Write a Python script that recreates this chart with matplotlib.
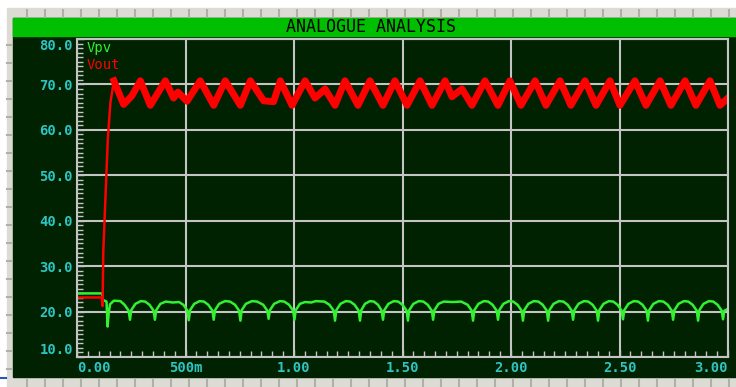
import numpy as np
import matplotlib.pyplot as plt
from matplotlib.patches import Rectangle
from matplotlib.ticker import MultipleLocator

# axis ticks, as printed by the simulator
x_ticks = [0.0, 0.5, 1.0, 1.5, 2.0, 2.5, 3.0]
x_labels = ['0.00', '500m', '1.00', '1.50', '2.00', '2.50', '3.00']
y_ticks = [10, 20, 30, 40, 50, 60, 70, 80]
y_labels = ['10.0', '20.0', '30.0', '40.0', '50.0', '60.0', '70.0', '80.0']

# Vpv trace (time s, volts)
vpv = [
    (0.000, 24.0), (0.116, 24.0), (0.118, 22.6), (0.136, 22.2), (0.141, 16.7),
    (0.146, 19.6), (0.152, 21.6), (0.170, 22.4), (0.200, 22.3), (0.219, 21.5),
    (0.238, 20.2), (0.244, 18.2),
    (0.250, 20.3), (0.269, 21.7), (0.294, 22.3), (0.314, 22.2), (0.334, 21.5), (0.353, 20.2), (0.359, 18.2),
    (0.365, 20.3), (0.384, 21.7), (0.409, 22.2), (0.440, 22.0), (0.470, 22.1), (0.490, 21.5), (0.509, 20.2), (0.515, 18.1),
    (0.521, 20.3), (0.540, 21.7), (0.565, 22.3), (0.585, 22.2), (0.605, 21.5), (0.624, 20.2), (0.630, 18.2),
    (0.636, 20.3), (0.655, 21.7), (0.682, 22.3), (0.705, 22.2), (0.728, 21.5), (0.747, 20.2), (0.753, 18.0),
    (0.759, 20.3), (0.778, 21.7), (0.806, 22.3), (0.830, 22.2), (0.858, 21.5), (0.877, 20.2), (0.883, 18.4),
    (0.889, 20.3), (0.908, 21.7), (0.935, 22.3), (0.955, 22.2), (0.977, 21.5), (0.996, 20.2), (1.002, 18.2),
    (1.008, 20.3), (1.027, 21.7), (1.051, 22.1), (1.080, 22.0), (1.100, 22.3), (1.140, 22.2), (1.163, 21.5),
    (1.183, 20.2), (1.189, 18.0),
    (1.195, 20.3), (1.214, 21.7), (1.239, 22.3), (1.259, 22.2), (1.279, 21.5), (1.298, 20.2), (1.304, 18.0),
    (1.310, 20.3), (1.327, 21.7), (1.350, 22.3), (1.368, 22.2), (1.387, 21.5), (1.404, 20.2), (1.410, 18.2),
    (1.416, 20.3), (1.435, 21.7), (1.460, 22.3), (1.480, 22.2), (1.500, 21.5), (1.519, 20.2), (1.525, 18.0),
    (1.531, 20.3), (1.550, 21.7), (1.575, 22.3), (1.596, 22.2), (1.616, 21.5), (1.635, 20.2), (1.641, 18.2),
    (1.647, 20.3), (1.666, 21.7), (1.690, 22.2), (1.730, 22.1), (1.770, 22.2), (1.800, 21.5), (1.819, 20.2), (1.825, 18.0),
    (1.831, 20.3), (1.850, 21.7), (1.875, 22.3), (1.895, 22.2), (1.915, 21.5), (1.934, 20.2), (1.940, 18.2),
    (1.946, 20.3), (1.965, 21.7), (1.990, 22.3), (2.010, 22.2), (2.030, 21.5), (2.049, 20.2), (2.055, 18.0),
    (2.061, 20.3), (2.080, 21.7), (2.105, 22.3), (2.126, 22.2), (2.146, 21.5), (2.165, 20.2), (2.171, 18.0),
    (2.177, 20.3), (2.196, 21.7), (2.221, 22.3), (2.241, 22.2), (2.261, 21.5), (2.280, 20.2), (2.286, 18.2),
    (2.292, 20.3), (2.311, 21.7), (2.336, 22.3), (2.356, 22.2), (2.376, 21.5), (2.395, 20.2), (2.401, 18.0),
    (2.407, 20.3), (2.426, 21.7), (2.451, 22.3), (2.471, 22.2), (2.491, 21.5), (2.510, 20.2), (2.516, 18.3),
    (2.522, 20.3), (2.541, 21.7), (2.566, 22.3), (2.586, 22.2), (2.606, 21.5), (2.625, 20.2), (2.631, 18.0),
    (2.637, 20.3), (2.656, 21.7), (2.681, 22.3), (2.702, 22.2), (2.722, 21.5), (2.741, 20.2), (2.747, 18.2),
    (2.753, 20.3), (2.772, 21.7), (2.797, 22.3), (2.817, 22.2), (2.837, 21.5), (2.856, 20.2), (2.862, 18.0),
    (2.868, 20.3), (2.887, 21.7), (2.912, 22.3), (2.932, 22.2), (2.952, 21.5), (2.971, 20.2), (2.977, 18.3),
    (2.983, 20.2), (3.000, 20.6),
]

# Vout trace: start-up edge, then peaks / troughs of the ripple
vout_start = [
    (0.000, 23.1), (0.113, 23.1), (0.118, 21.2), (0.121, 33.0), (0.142, 58.0),
    (0.154, 66.0), (0.170, 70.8),
]
vout = [
    (0.170, 70.8), (0.215, 65.6), (0.253, 67.5), (0.292, 70.8), (0.338, 65.4),
    (0.407, 70.8), (0.445, 67.0), (0.465, 68.3), (0.507, 66.3), (0.568, 70.8),
    (0.630, 65.4), (0.683, 70.8), (0.753, 65.4), (0.799, 70.8), (0.860, 66.4),
    (0.906, 66.2), (0.937, 70.8), (0.991, 65.4), (1.051, 70.8), (1.097, 67.0),
    (1.143, 69.0), (1.189, 65.4), (1.235, 70.8), (1.295, 65.4), (1.350, 70.8),
    (1.410, 65.4), (1.465, 70.8), (1.521, 65.4), (1.581, 70.8), (1.636, 65.4),
    (1.696, 70.8), (1.728, 67.3), (1.774, 69.0), (1.820, 65.4), (1.880, 70.8),
    (1.940, 65.4), (1.995, 70.8), (2.046, 65.4), (2.111, 70.8), (2.161, 65.4),
    (2.226, 70.8), (2.276, 65.4), (2.341, 70.8), (2.392, 65.4), (2.456, 70.8),
    (2.502, 65.4), (2.571, 70.8), (2.622, 65.4), (2.687, 70.8), (2.737, 65.4),
    (2.802, 70.8), (2.852, 65.4), (2.917, 70.8), (2.963, 65.4), (2.995, 66.8),
]

W, H = 736, 387
dark = '#002200'
grid_c = '#c4c4c4'
cyan = '#2ec4c4'
green = '#33f033'
red = '#ff0000'
ruler = '#dcdcd4'
ruler_tick = '#b0b0a8'

fig = plt.figure(figsize=(W / 100, H / 100), dpi=100)
fig.patch.set_facecolor('white')

# window frame, drawn in pixel coordinates
bg = fig.add_axes([0, 0, 1, 1])
bg.set_xlim(0, W)
bg.set_ylim(H, 0)
bg.axis('off')
bg.add_patch(Rectangle((7, 8), W - 7, H - 8, color=ruler))
bg.add_patch(Rectangle((13, 18), W - 13, 359, color=dark))
bg.add_patch(Rectangle((13, 18), W - 13, 18, color='#00bf00'))
for x in np.arange(27, W, 18):
    bg.plot([x, x], [10, 17], color=ruler_tick, lw=1.5)
    bg.plot([x, x], [379, 387], color=ruler_tick, lw=1.5)
for y in np.arange(45, 377, 18):
    bg.plot([7, 12], [y, y], color=ruler_tick, lw=1.5)
bg.plot([0, 6], [377.5, 377.5], color='#3050c0', lw=1.5)
bg.text(371, 27.5, 'ANALOGUE ANALYSIS', ha='center', va='center',
        fontsize=12, family='DejaVu Sans Mono', color='black')

# plot area
ax = fig.add_axes([77 / W, (H - 357) / H, 651 / W, 318 / H])
ax.set_facecolor(dark)
ax.set_xlim(0, 3.0)
ax.set_ylim(10, 80)

t, v = np.array(vpv).T
ax.plot(t, v, color=green, lw=1.8)
t, v = np.array(vout_start).T
ax.plot(t, v, color=red, lw=1.8)
t, v = np.array(vout).T
ax.plot(t, v, color=red, lw=5, solid_joinstyle='round')

ax.set_xticks(x_ticks)
ax.set_xticklabels(x_labels)
ax.set_yticks(y_ticks)
ax.set_yticklabels(y_labels)
ax.xaxis.set_minor_locator(MultipleLocator(0.05))
ax.yaxis.set_minor_locator(MultipleLocator(1))
ax.tick_params(which='both', direction='in', color=grid_c, width=1)
ax.tick_params(which='major', length=5, labelcolor=cyan, labelsize=10, pad=3)
ax.tick_params(which='minor', length=4)
for lab in ax.get_xticklabels() + ax.get_yticklabels():
    lab.set_family('DejaVu Sans Mono')
    lab.set_fontweight('bold')
xl = ax.get_xticklabels()
xl[0].set_ha('left')
xl[-1].set_ha('right')
yl = ax.get_yticklabels()
yl[0].set_va('bottom')
yl[-1].set_va('top')

ax.grid(True, which='major', color=grid_c, lw=1.5)
ax.set_axisbelow(True)
for s in ax.spines.values():
    s.set_color(grid_c)
    s.set_linewidth(1.5)

ax.text(0.015, 0.995, 'Vpv', transform=ax.transAxes, color=green, va='top',
        fontsize=10, family='DejaVu Sans Mono')
ax.text(0.015, 0.94, 'Vout', transform=ax.transAxes, color=red, va='top',
        fontsize=10, family='DejaVu Sans Mono')

fig.savefig('out.png', dpi=100, facecolor=fig.get_facecolor())
